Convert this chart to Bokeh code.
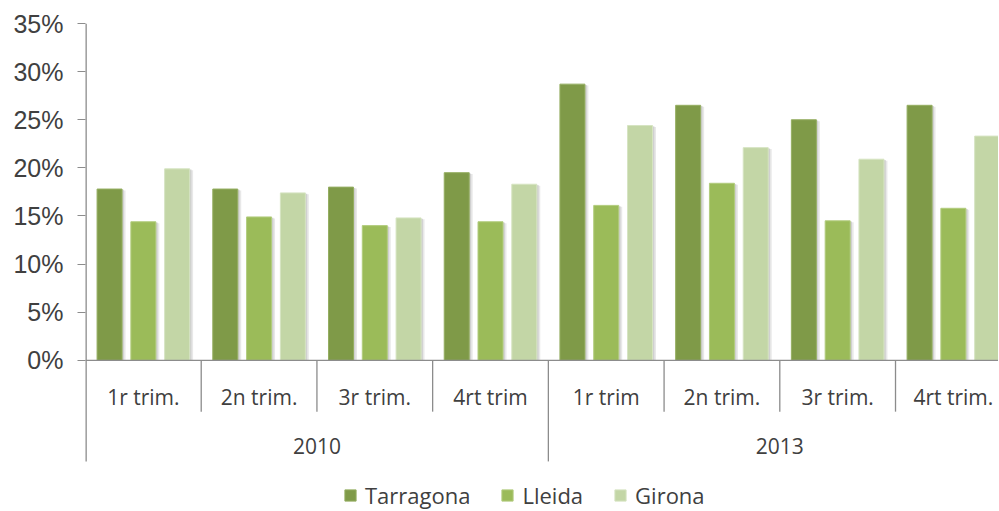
from bokeh.plotting import figure
from bokeh.models import Range1d, FixedTicker, PrintfTickFormatter, Legend, LegendItem
from bokeh.core.properties import value
from bokeh.embed import file_html
from bokeh.resources import INLINE

# ---- data ----
quarters = ["1r trim.", "2n trim.", "3r trim.", "4rt trim", "1r trim", "2n trim.", "3r trim.", "4rt trim."]
years = ["2010", "2013"]
series_names = ["Tarragona", "Lleida", "Girona"]
tarragona = [17.8, 17.8, 18.0, 19.5, 28.7, 26.5, 25.0, 26.5]
lleida = [14.4, 14.9, 14.0, 14.4, 16.1, 18.4, 14.5, 15.8]
girona = [19.9, 17.4, 14.8, 18.3, 24.4, 22.1, 20.9, 23.3]
y_ticks = [0, 5, 10, 15, 20, 25, 30, 35]

# ---- styling ----
colors = ["#7F9A48", "#9BBB59", "#C3D6A6"]
edge_colors = ["#95AE62", "#B2CC7E", "#D6E4C2"]
axis_color = "#8C8C8C"
text_color = "#404040"
label_font = "Open Sans"

n = len(quarters)
per_year = n // len(years)
bar_w = 0.216
offsets = [-0.292, 0.0, 0.292]

p = figure(width=998, height=510, output_backend="svg", toolbar_location=None,
           x_range=Range1d(0, 7.89), y_range=Range1d(-15.6, 35),
           min_border_left=85, min_border_right=0, min_border_top=23, min_border_bottom=0)
p.outline_line_color = None
p.xgrid.visible = False
p.ygrid.visible = False
p.xaxis.visible = False
p.background_fill_color = "white"

yax = p.yaxis[0]
yax.ticker = FixedTicker(ticks=y_ticks)
yax.formatter = PrintfTickFormatter(format="%d%%")
yax.axis_line_color = None
yax.major_tick_line_color = axis_color
yax.major_tick_out = 8
yax.major_tick_in = 0
yax.minor_tick_line_color = None
yax.major_label_text_font = "Liberation Sans"
yax.major_label_text_font_size = "25px"
yax.major_label_text_color = text_color
yax.major_label_standoff = 14

# bars
centers = [i + 0.5 for i in range(n)]
renderers = []
for vals, off, col, ecol in zip([tarragona, lleida, girona], offsets, colors, edge_colors):
    xs = [c + off for c in centers]
    # soft shadow
    p.vbar(x=[x + 0.030 for x in xs], top=[v - 0.15 for v in vals], bottom=0, width=bar_w,
           fill_color="#D9D9D9", fill_alpha=0.6, line_color=None)
    p.vbar(x=[x + 0.016 for x in xs], top=[v - 0.08 for v in vals], bottom=0, width=bar_w,
           fill_color="#BFBFBF", fill_alpha=0.6, line_color=None)
    r = p.vbar(x=xs, top=vals, bottom=0, width=bar_w, fill_color=col, line_color=ecol, line_width=1)
    renderers.append(r)

# axis lines & separators
q_depth = -5.33
y_depth = -10.5
p.segment(x0=[0], y0=[0], x1=[n], y1=[0], line_color=axis_color, line_width=1.3)
p.segment(x0=[0], y0=[35], x1=[0], y1=[y_depth], line_color=axis_color, line_width=2.6)
q_bounds = [i for i in range(1, n) if i % per_year != 0]
p.segment(x0=q_bounds, y0=[0] * len(q_bounds), x1=q_bounds, y1=[q_depth] * len(q_bounds),
          line_color=axis_color, line_width=1.3)
y_bounds = [i * per_year for i in range(1, len(years) + 1)]
p.segment(x0=y_bounds, y0=[0] * len(y_bounds), x1=y_bounds, y1=[y_depth] * len(y_bounds),
          line_color=axis_color, line_width=1.3)

# category labels
p.text(x=centers, y=[-3.8] * n, text=quarters, text_align="center", text_baseline="middle",
       text_font=value(label_font), text_font_size="21px", text_color=text_color)
year_x = [i * per_year + per_year / 2 for i in range(len(years))]
p.text(x=year_x, y=[-8.9] * len(years), text=years, text_align="center", text_baseline="middle",
       text_font=value(label_font), text_font_size="21px", text_color=text_color)

legend = Legend(items=[LegendItem(label=nm, renderers=[r]) for nm, r in zip(series_names, renderers)],
                orientation="horizontal", location=(258, 0), margin=0, padding=0,
                glyph_width=14, glyph_height=14, label_height=14, label_standoff=8, spacing=30,
                label_text_font=label_font, label_text_font_size="22px", label_text_color=text_color,
                border_line_color=None, background_fill_alpha=0)
p.add_layout(legend)

open("out.html", "w").write(file_html(p, INLINE))
